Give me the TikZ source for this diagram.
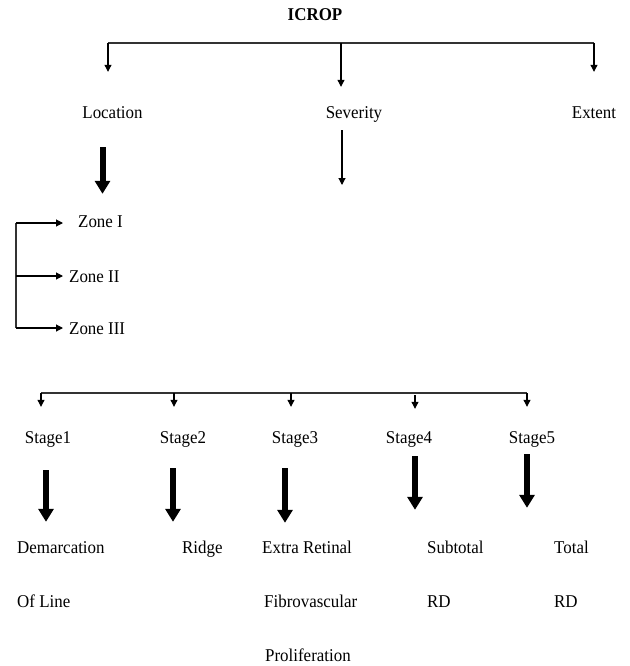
\documentclass[tikz,border=0pt]{standalone}
\usepackage{fontspec}
\setmainfont[FakeStretch=0.94]{Liberation Serif}
\usetikzlibrary{arrows.meta,positioning,calc}

\begin{document}
\begin{tikzpicture}[
	x=1pt, y=-1pt,
	lbl/.style={inner sep=0pt, font=\fontsize{18}{21}\selectfont, text height=13pt, text depth=1pt},
	lft/.style={lbl, anchor=west},
	bar/.style={line width=1.2pt, draw=black!80},
	thin/.style={-{Triangle[length=7pt,width=7pt]}, line width=1.1pt},
	fat/.style={-{Triangle[length=13pt,width=15pt]}, line width=6pt}
	]
	\useasboundingbox (0,0) rectangle (629,666);
	% top level
	\node[lbl, font=\fontsize{18}{21}\selectfont\bfseries] (icrop) at (315,15) {ICROP};
	\node[lbl] (loc) at (112.5,112) {Location};
	\node[lbl] (sev) at (354,112) {Severity};
	\node[lbl] (ext) at (594,112) {Extent};
	\coordinate (bl) at (108,43);
	\coordinate (bm) at (341,43);
	\coordinate (br) at (594,43);
	\draw[bar] (bl) -- (br);
	\draw[thin, shorten >=33pt] (bl) -- (bl |- loc.north);
	\draw[thin, shorten >=18pt] (bm) -- (bm |- sev.north);
	\draw[thin, shorten >=33pt] (br) -- (br |- ext.north);
	\coordinate (sevend) at (342,185);
	\draw[thin, shorten <=11pt] (sev.south -| sevend) -- (sevend);
	% zones
	\node[lft] (z1) at (78,221) {Zone I};
	\node[lft] (z2) at (69,276) {Zone II};
	\node[lft] (z3) at (69,328) {Zone III};
	\draw[fat, shorten <=28pt, shorten >=20pt] ([xshift=-10pt]loc.south) -- ([xshift=-10pt]loc.south |- z1.north);
	\coordinate (zt) at (16,223);
	\coordinate (zb) at (16,328);
	\draw[bar] (zt) -- (zb);
	\draw[thin, shorten >=15pt] (zt) -- (zt -| z1.west);
	\draw[thin, shorten >=6pt] (zt |- z2.west) -- (z2.west);
	\draw[thin, shorten >=6pt] (zb) -- (zb -| z3.west);
	% stages
	\node[lbl] (st1) at (48,437) {Stage1};
	\node[lbl] (st2) at (183,437) {Stage2};
	\node[lbl] (st3) at (295,437) {Stage3};
	\node[lbl] (st4) at (409,437) {Stage4};
	\node[lbl] (st5) at (532,437) {Stage5};
	\coordinate (s1) at (41,393);
	\coordinate (s2) at (174,393);
	\coordinate (s3) at (291,393);
	\coordinate (s4) at (415,393);
	\coordinate (s5) at (527,393);
	\draw[bar] (s1) -- (s5);
	\draw[thin, shorten >=23pt] (s1) -- (s1 |- st1.north);
	\draw[thin, shorten >=23pt] (s2) -- (s2 |- st2.north);
	\draw[thin, shorten >=23pt] (s3) -- (s3 |- st3.north);
	\draw[thin, shorten <=2pt, shorten >=21pt] (s4) -- (s4 |- st4.north);
	\draw[thin, shorten >=23pt] (s5) -- (s5 |- st5.north);
	% outcomes
	\node[lft] (dem) at (17,547) {Demarcation};
	\node[lft] (ofl) at (17,601) {Of Line};
	\node[lft] (rdg) at (182,547) {Ridge};
	\node[lft] (xr) at (262,547) {Extra Retinal};
	\node[lft] (fib) at (264,601) {Fibrovascular};
	\node[lft] (pro) at (265,655) {Proliferation};
	\node[lft] (sub) at (427,547) {Subtotal};
	\node[lft] (rd4) at (427,601) {RD};
	\node[lft] (tot) at (554,547) {Total};
	\node[lft] (rd5) at (554,601) {RD};
	\draw[fat, shorten <=26pt, shorten >=18pt] ([xshift=-2pt]st1.south) -- ([xshift=-2pt]st1.south |- dem.north);
	\draw[fat, shorten <=24pt, shorten >=18pt] ([xshift=-10pt]st2.south) -- ([xshift=-10pt]st2.south |- rdg.north);
	\draw[fat, shorten <=24pt, shorten >=17pt] ([xshift=-10pt]st3.south) -- ([xshift=-10pt]st3.south |- xr.north);
	\draw[fat, shorten <=12pt, shorten >=30pt] ([xshift=6pt]st4.south) -- ([xshift=6pt]st4.south |- sub.north);
	\draw[fat, shorten <=10pt, shorten >=32pt] ([xshift=-5pt]st5.south) -- ([xshift=-5pt]st5.south |- tot.north);
\end{tikzpicture}
\end{document}
